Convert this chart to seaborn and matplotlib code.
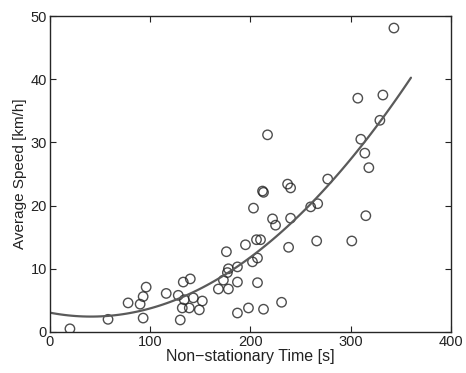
"""Average speed vs non-stationary time, with a quadratic fit."""

import numpy as np
import pandas as pd
import matplotlib
matplotlib.use("Agg")
import matplotlib.pyplot as plt
import seaborn as sns

# Data
time_s = [20, 58, 78, 90, 93, 96, 93, 116, 128, 133, 140, 130, 134, 132, 139,
          143, 149, 152, 168, 176, 178, 177, 178, 173, 187, 187, 187, 195, 202,
          206, 210, 207, 207, 198, 213, 231, 203, 212, 213, 217, 222, 225, 237,
          240, 240, 238, 260, 267, 266, 277, 301, 315, 310, 314, 318, 307, 332,
          329, 343]
speed_kmh = [0.5, 2.0, 4.6, 4.4, 5.6, 7.1, 2.2, 6.1, 5.8, 7.9, 8.4, 1.9, 5.1,
             3.8, 3.8, 5.4, 3.5, 4.9, 6.8, 12.7, 10.0, 9.4, 6.8, 8.2, 10.3, 7.9,
             3.0, 13.8, 11.1, 14.6, 14.6, 11.7, 7.8, 3.8, 3.6, 4.7, 19.6, 22.3,
             22.1, 31.2, 17.9, 16.9, 23.4, 22.8, 18.0, 13.4, 19.8, 20.3, 14.4,
             24.2, 14.4, 18.4, 30.5, 28.3, 26.0, 37.0, 37.5, 33.5, 48.1]
x_ticks = [0, 100, 200, 300, 400]
y_ticks = [0, 10, 20, 30, 40, 50]

df = pd.DataFrame({"t": time_s, "v": speed_kmh})

sns.set_style("ticks")
plt.rcParams["font.family"] = ["Liberation Sans", "DejaVu Sans"]
plt.rcParams.update({
    "xtick.direction": "in",
    "ytick.direction": "in",
    "xtick.top": True,
    "ytick.right": True,
})

fig = plt.figure(figsize=(4.66, 3.73), dpi=100)
ax = fig.add_axes([0.107, 0.110, 0.861, 0.847])

# fit line spans 0..360 like the original
ax.set_xlim(0, 360)
sns.regplot(data=df, x="t", y="v", order=2, ci=None, truncate=False, ax=ax,
            scatter_kws={"s": 46, "facecolors": "none", "edgecolors": "#222222",
                         "linewidths": 1.0},
            line_kws={"color": "#5a5a5a", "lw": 1.6})

ax.set_xlim(0, 400)
ax.set_ylim(0, 50)
ax.set_xticks(x_ticks)
ax.set_yticks(y_ticks)
ax.tick_params(labelsize=10.5, length=4, width=0.8, pad=2, colors="#222222")
for s in ax.spines.values():
    s.set_linewidth(1.0)
ax.set_xlabel("Non\u2212stationary Time [s]", fontsize=11.5, labelpad=0,
              color="#222222")
ax.set_ylabel("Average Speed [km/h]", fontsize=11, labelpad=3,
              color="#222222")

fig.savefig("out.png", dpi=100, facecolor="white")
